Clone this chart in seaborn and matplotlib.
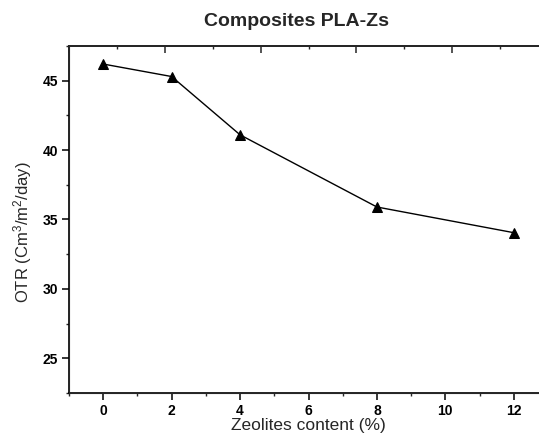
import matplotlib
matplotlib.use("Agg")
import matplotlib.pyplot as plt
import seaborn as sns
import pandas as pd
from matplotlib.ticker import MultipleLocator, NullFormatter

# Data
zeolite_content = [0, 2, 4, 8, 12]
otr_values = [46.2, 45.3, 41.1, 35.9, 34.05]
title = "Composites PLA-Zs"
xlabel = "Zeolites content (%)"
ylabel = r"OTR (Cm$^3$/m$^2$/day)"

sns.set_style("ticks")
plt.rcParams['font.family'] = ['Liberation Sans', 'DejaVu Sans']
plt.rcParams['mathtext.default'] = 'regular'

df = pd.DataFrame({"x": zeolite_content, "y": otr_values})

fig = plt.figure(figsize=(5.39, 4.43), dpi=100)
ax = fig.add_axes([69/539, (443-393)/443, 479/539, (393-46)/443])

sns.lineplot(data=df, x="x", y="y", ax=ax, color="black", marker="^",
             markersize=7.5, markeredgecolor="black", linewidth=1.0)

ax.set_xlim(-1, 13)
ax.set_ylim(22.5, 47.5)
ax.xaxis.set_major_locator(MultipleLocator(2))
ax.xaxis.set_minor_locator(MultipleLocator(1))
ax.yaxis.set_major_locator(MultipleLocator(5))
ax.yaxis.set_minor_locator(MultipleLocator(2.5))

for s in ax.spines.values():
    s.set_linewidth(1.2)
    s.set_color("black")
ax.spines['right'].set_visible(False)

ax.tick_params(axis='both', which='major', direction='out', length=5, width=1.1,
               labelsize=10, pad=3, colors='black')
ax.tick_params(axis='both', which='minor', direction='out', length=2.5, width=1.0)
for lab in ax.get_xticklabels() + ax.get_yticklabels():
    lab.set_fontweight('bold')

ax.set_xlabel(xlabel, fontsize=12.5, labelpad=0)
ax.set_ylabel(ylabel, fontsize=12)
ax.yaxis.set_label_coords(-0.073, 0.464)

# Top secondary axis (unlabelled ticks, as in original)
top = ax.twiny()
top.set_xlim(0.5, 3.0)
top.xaxis.set_major_locator(MultipleLocator(0.5))
top.xaxis.set_minor_locator(MultipleLocator(0.25))
top.xaxis.set_major_formatter(NullFormatter())
top.tick_params(axis='x', which='major', direction='in', length=5, width=1.1)
top.tick_params(axis='x', which='minor', direction='in', length=2.5, width=1.0)
top.spines['right'].set_visible(False)
top.spines['top'].set_linewidth(1.2)

fig.text(297/539, 1 - 22/443, title, ha='center', va='center',
         fontsize=14, fontweight='bold')

fig.savefig("out.png", dpi=100)
